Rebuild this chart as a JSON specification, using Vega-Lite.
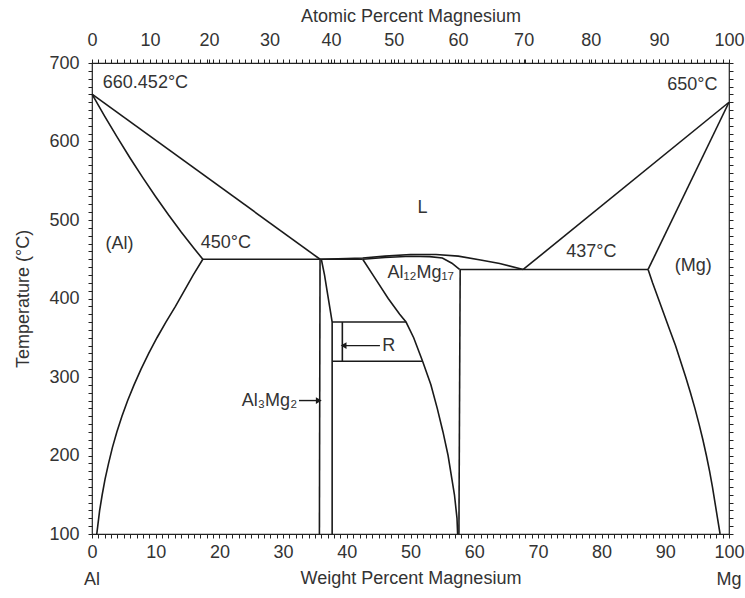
{
  "$schema": "https://vega.github.io/schema/vega-lite/v6.json",
  "width": 637,
  "height": 471,
  "autosize": {"type": "none"},
  "padding": {"left": 92, "top": 63, "right": 16, "bottom": 64},
  "background": "white",
  "config": {
    "view": {"stroke": "#222", "strokeWidth": 1.2},
    "font": "Liberation Sans",
    "axis": {"domain": false, "grid": false, "ticks": true, "tickColor": "#222", "tickWidth": 1, "tickSize": 4, "labelColor": "#333", "titleColor": "#333", "labelFontSize": 18, "titleFontSize": 18, "titleFontWeight": "normal", "labelFont": "Liberation Sans", "titleFont": "Liberation Sans", "labelFlush": false, "labelOverlap": false},
    "text": {"font": "Liberation Sans", "fontSize": 18, "fill": "#333"}
  },
  "datasets": {
    "lines": [
      {"s": "liqL", "o": 0, "x": 0, "t": 660.45},
      {"s": "liqL", "o": 1, "x": 35.8, "t": 450},
      {"s": "solL", "o": 0, "x": 0, "t": 660.45},
      {"s": "solL", "o": 1, "x": 2, "t": 632.1},
      {"s": "solL", "o": 2, "x": 4, "t": 604.9},
      {"s": "solL", "o": 3, "x": 6, "t": 578.7},
      {"s": "solL", "o": 4, "x": 8, "t": 553.6},
      {"s": "solL", "o": 5, "x": 10, "t": 529.6},
      {"s": "solL", "o": 6, "x": 12, "t": 506.6},
      {"s": "solL", "o": 7, "x": 14, "t": 484.7},
      {"s": "solL", "o": 8, "x": 16, "t": 464},
      {"s": "solL", "o": 9, "x": 17.4, "t": 450},
      {"s": "eut450", "o": 0, "x": 17.4, "t": 450},
      {"s": "eut450", "o": 1, "x": 42.5, "t": 450},
      {"s": "solvAl", "o": 0, "x": 17.4, "t": 450},
      {"s": "solvAl", "o": 1, "x": 15.9, "t": 430},
      {"s": "solvAl", "o": 2, "x": 14.5, "t": 410},
      {"s": "solvAl", "o": 3, "x": 13.1, "t": 390},
      {"s": "solvAl", "o": 4, "x": 11.6, "t": 370},
      {"s": "solvAl", "o": 5, "x": 10.2, "t": 350},
      {"s": "solvAl", "o": 6, "x": 8.9, "t": 330},
      {"s": "solvAl", "o": 7, "x": 7.7, "t": 310},
      {"s": "solvAl", "o": 8, "x": 6.6, "t": 290},
      {"s": "solvAl", "o": 9, "x": 5.6, "t": 270},
      {"s": "solvAl", "o": 10, "x": 4.7, "t": 250},
      {"s": "solvAl", "o": 11, "x": 3.9, "t": 230},
      {"s": "solvAl", "o": 12, "x": 3.2, "t": 210},
      {"s": "solvAl", "o": 13, "x": 2.6, "t": 190},
      {"s": "solvAl", "o": 14, "x": 2.05, "t": 170},
      {"s": "solvAl", "o": 15, "x": 1.6, "t": 150},
      {"s": "solvAl", "o": 16, "x": 1.2, "t": 130},
      {"s": "solvAl", "o": 17, "x": 0.9, "t": 110},
      {"s": "solvAl", "o": 18, "x": 0.75, "t": 100},
      {"s": "betaL", "o": 0, "x": 35.8, "t": 450},
      {"s": "betaL", "o": 1, "x": 35.7, "t": 100},
      {"s": "betaR", "o": 0, "x": 36.0, "t": 450},
      {"s": "betaR", "o": 1, "x": 36.5, "t": 430},
      {"s": "betaR", "o": 2, "x": 37.0, "t": 405},
      {"s": "betaR", "o": 3, "x": 37.5, "t": 380},
      {"s": "betaR", "o": 4, "x": 37.7, "t": 370},
      {"s": "betaR", "o": 5, "x": 37.7, "t": 100},
      {"s": "dome", "o": 0, "x": 35.8, "t": 450},
      {"s": "dome", "o": 1, "x": 40, "t": 450.8},
      {"s": "dome", "o": 2, "x": 42.5, "t": 451.5},
      {"s": "dome", "o": 3, "x": 46, "t": 454},
      {"s": "dome", "o": 4, "x": 50, "t": 456},
      {"s": "dome", "o": 5, "x": 54, "t": 456},
      {"s": "dome", "o": 6, "x": 57.5, "t": 454},
      {"s": "dome", "o": 7, "x": 61, "t": 449},
      {"s": "dome", "o": 8, "x": 64, "t": 444.5},
      {"s": "dome", "o": 9, "x": 67.7, "t": 437},
      {"s": "gsol", "o": 0, "x": 42.5, "t": 450},
      {"s": "gsol", "o": 1, "x": 46, "t": 452.3},
      {"s": "gsol", "o": 2, "x": 50, "t": 453.8},
      {"s": "gsol", "o": 3, "x": 53, "t": 453.3},
      {"s": "gsol", "o": 4, "x": 55, "t": 451.5},
      {"s": "gsol", "o": 5, "x": 56.5, "t": 445},
      {"s": "gsol", "o": 6, "x": 57.7, "t": 437},
      {"s": "eut437", "o": 0, "x": 57.7, "t": 437},
      {"s": "eut437", "o": 1, "x": 87.3, "t": 437},
      {"s": "gR", "o": 0, "x": 57.8, "t": 437},
      {"s": "gR", "o": 1, "x": 57.6, "t": 100},
      {"s": "gL", "o": 0, "x": 42.5, "t": 450},
      {"s": "gL", "o": 1, "x": 44.5, "t": 425},
      {"s": "gL", "o": 2, "x": 46.5, "t": 400},
      {"s": "gL", "o": 3, "x": 48.3, "t": 380},
      {"s": "gL", "o": 4, "x": 49.3, "t": 370},
      {"s": "gL", "o": 5, "x": 50.5, "t": 350},
      {"s": "gL", "o": 6, "x": 51.9, "t": 320},
      {"s": "gL", "o": 7, "x": 53.2, "t": 290},
      {"s": "gL", "o": 8, "x": 54.2, "t": 260},
      {"s": "gL", "o": 9, "x": 55.1, "t": 230},
      {"s": "gL", "o": 10, "x": 55.9, "t": 200},
      {"s": "gL", "o": 11, "x": 56.5, "t": 170},
      {"s": "gL", "o": 12, "x": 56.9, "t": 150},
      {"s": "gL", "o": 13, "x": 57.3, "t": 120},
      {"s": "gL", "o": 14, "x": 57.4, "t": 100},
      {"s": "Rtop", "o": 0, "x": 37.7, "t": 370},
      {"s": "Rtop", "o": 1, "x": 49.3, "t": 370},
      {"s": "Rbot", "o": 0, "x": 37.7, "t": 320},
      {"s": "Rbot", "o": 1, "x": 51.9, "t": 320},
      {"s": "Rv", "o": 0, "x": 39.3, "t": 370},
      {"s": "Rv", "o": 1, "x": 39.3, "t": 320},
      {"s": "liqR", "o": 0, "x": 67.7, "t": 437},
      {"s": "liqR", "o": 1, "x": 100, "t": 650},
      {"s": "solR", "o": 0, "x": 87.3, "t": 437},
      {"s": "solR", "o": 1, "x": 100, "t": 650},
      {"s": "solvMg", "o": 0, "x": 87.3, "t": 437},
      {"s": "solvMg", "o": 1, "x": 88.0, "t": 420},
      {"s": "solvMg", "o": 2, "x": 88.9, "t": 400},
      {"s": "solvMg", "o": 3, "x": 89.8, "t": 380},
      {"s": "solvMg", "o": 4, "x": 90.7, "t": 360},
      {"s": "solvMg", "o": 5, "x": 91.6, "t": 340},
      {"s": "solvMg", "o": 6, "x": 92.4, "t": 320},
      {"s": "solvMg", "o": 7, "x": 93.2, "t": 300},
      {"s": "solvMg", "o": 8, "x": 93.95, "t": 280},
      {"s": "solvMg", "o": 9, "x": 94.65, "t": 260},
      {"s": "solvMg", "o": 10, "x": 95.3, "t": 240},
      {"s": "solvMg", "o": 11, "x": 95.9, "t": 220},
      {"s": "solvMg", "o": 12, "x": 96.45, "t": 200},
      {"s": "solvMg", "o": 13, "x": 96.95, "t": 180},
      {"s": "solvMg", "o": 14, "x": 97.4, "t": 160},
      {"s": "solvMg", "o": 15, "x": 97.8, "t": 140},
      {"s": "solvMg", "o": 16, "x": 98.2, "t": 120},
      {"s": "solvMg", "o": 17, "x": 98.6, "t": 100}
    ],
    "centerLabels": [
      {"label": "L", "x": 51.9, "t": 515},
      {"label": "(Al)", "x": 4.3, "t": 469},
      {"label": "450°C", "x": 21.0, "t": 471},
      {"label": "437°C", "x": 78.4, "t": 459},
      {"label": "(Mg)", "x": 94.4, "t": 442},
      {"label": "Al₁₂Mg₁₇", "x": 51.6, "t": 432},
      {"label": "R", "x": 46.6, "t": 340},
      {"label": "Al", "x": 0, "t": 42},
      {"label": "Mg", "x": 100, "t": 42}
    ],
    "leftLabels": [
      {"label": "660.452°C", "x": 1.7, "t": 675}
    ],
    "rightLabels": [
      {"label": "650°C", "x": 98.2, "t": 672},
      {"label": "Al₃Mg₂", "x": 32.2, "t": 270}
    ],
    "arrows": [
      {"name": "R", "from": 45.2, "to": 39.5, "t": 340},
      {"name": "Al3Mg2", "from": 32.5, "to": 35.6, "t": 270}
    ]
  },
  "resolve": {"axis": {"x": "independent", "y": "independent"}},
  "layer": [
    {
      "data": {"name": "lines"},
      "mark": {"type": "line", "color": "#1a1a1a", "strokeWidth": 1.6},
      "encoding": {
        "x": {"field": "x", "type": "quantitative", "scale": {"domain": [0, 100], "nice": false, "zero": false},
              "axis": {"orient": "bottom",
                       "values": [0,1,2,3,4,5,6,7,8,9,10,11,12,13,14,15,16,17,18,19,20,21,22,23,24,25,26,27,28,29,30,31,32,33,34,35,36,37,38,39,40,41,42,43,44,45,46,47,48,49,50,51,52,53,54,55,56,57,58,59,60,61,62,63,64,65,66,67,68,69,70,71,72,73,74,75,76,77,78,79,80,81,82,83,84,85,86,87,88,89,90,91,92,93,94,95,96,97,98,99,100],
                       "labelExpr": "datum.value % 10 === 0 ? datum.label : ''",
                       "title": "Weight Percent Magnesium", "labelPadding": 5, "titlePadding": 8}},
        "y": {"field": "t", "type": "quantitative", "scale": {"domain": [100, 700], "nice": false, "zero": false},
              "axis": {"orient": "left",
                       "values": [100,110,120,130,140,150,160,170,180,190,200,210,220,230,240,250,260,270,280,290,300,310,320,330,340,350,360,370,380,390,400,410,420,430,440,450,460,470,480,490,500,510,520,530,540,550,560,570,580,590,600,610,620,630,640,650,660,670,680,690,700],
                       "labelExpr": "datum.value % 100 === 0 ? datum.label : ''",
                       "title": "Temperature (°C)", "labelPadding": 9, "titlePadding": 16}},
        "detail": {"field": "s"},
        "order": {"field": "o"}
      }
    },
    {
      "data": {"name": "lines"},
      "mark": {"type": "point", "opacity": 0},
      "encoding": {
        "x": {"field": "x", "type": "quantitative",
              "axis": {"orient": "top",
                       "values": [0, 9.1, 18.38, 27.85, 37.52, 47.39, 57.47, 67.76, 78.28, 89.02, 100, 1,2,3,4,5,6,7,8,10,11,12,13,14,15,16,17,18,19,20,21,22,23,24,25,26,27,29,30,31,32,33,34,35,36,37,38,39,40,41,42,43,44,45,46,47,48,49,50,51,52,53,54,55,56,57,58,59,60,61,62,63,64,65,66,67,68,69,70,71,72,73,74,75,76,77,78,79,80,81,82,83,84,85,86,87,88,89,90,91,92,93,94,95,96,97,98,99],
                       "labelExpr": "indexof([0, 9.1, 18.38, 27.85, 37.52, 47.39, 57.47, 67.76, 78.28, 89.02, 100], datum.value) >= 0 ? indexof([0, 9.1, 18.38, 27.85, 37.52, 47.39, 57.47, 67.76, 78.28, 89.02, 100], datum.value) * 10 : ''",
                       "title": "Atomic Percent Magnesium", "labelPadding": 10, "titlePadding": 6}},
        "y": {"field": "t", "type": "quantitative",
              "axis": {"orient": "right",
                       "values": [100,110,120,130,140,150,160,170,180,190,200,210,220,230,240,250,260,270,280,290,300,310,320,330,340,350,360,370,380,390,400,410,420,430,440,450,460,470,480,490,500,510,520,530,540,550,560,570,580,590,600,610,620,630,640,650,660,670,680,690,700],
                       "labels": false, "title": null}}
      }
    },
    {
      "data": {"name": "centerLabels"},
      "mark": {"type": "text", "align": "center", "baseline": "middle"},
      "encoding": {
        "x": {"field": "x", "type": "quantitative", "axis": null},
        "y": {"field": "t", "type": "quantitative", "axis": null},
        "text": {"field": "label"}
      }
    },
    {
      "data": {"name": "leftLabels"},
      "mark": {"type": "text", "align": "left", "baseline": "middle"},
      "encoding": {
        "x": {"field": "x", "type": "quantitative", "axis": null},
        "y": {"field": "t", "type": "quantitative", "axis": null},
        "text": {"field": "label"}
      }
    },
    {
      "data": {"name": "rightLabels"},
      "mark": {"type": "text", "align": "right", "baseline": "middle"},
      "encoding": {
        "x": {"field": "x", "type": "quantitative", "axis": null},
        "y": {"field": "t", "type": "quantitative", "axis": null},
        "text": {"field": "label"}
      }
    },
    {
      "data": {"name": "arrows"},
      "mark": {"type": "rule", "color": "#1a1a1a", "strokeWidth": 1.4},
      "encoding": {
        "x": {"field": "from", "type": "quantitative", "axis": null},
        "x2": {"field": "to"},
        "y": {"field": "t", "type": "quantitative", "axis": null}
      }
    },
    {
      "data": {"name": "arrows"},
      "mark": {"type": "point", "filled": true, "color": "#1a1a1a", "opacity": 1, "size": 45},
      "encoding": {
        "x": {"field": "to", "type": "quantitative", "axis": null},
        "y": {"field": "t", "type": "quantitative", "axis": null},
        "shape": {"field": "name", "type": "nominal", "scale": {"domain": ["R", "Al3Mg2"], "range": ["triangle-left", "triangle-right"]}, "legend": null}
      }
    }
  ]
}
